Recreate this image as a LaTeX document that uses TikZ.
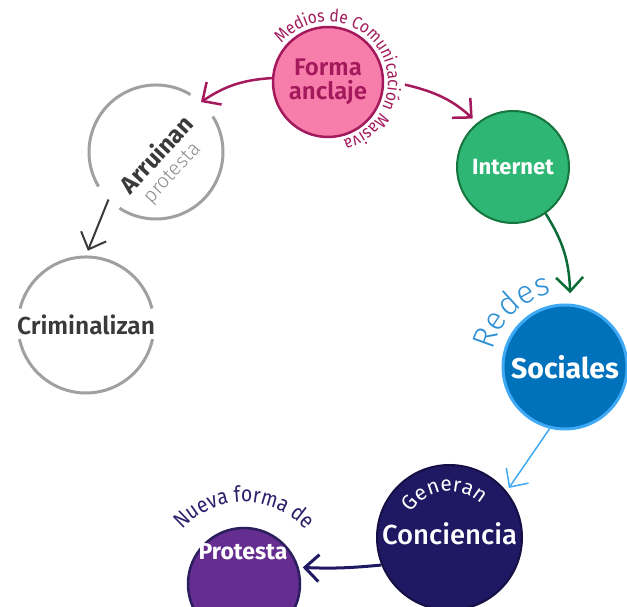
\documentclass[tikz,border=0pt]{standalone}
\usepackage{fontspec}
\setmainfont{Fira Sans}
\newfontfamily\fslight{Fira Sans Light}
\newfontfamily\fsmed{Fira Sans Medium}
\newfontfamily\fssemi{Fira Sans SemiBold}
\newfontfamily\fsnarrow{Fira Sans}[FakeStretch=0.88]
\usetikzlibrary{arrows.meta,decorations.text,calc}
\definecolor{magentaD}{HTML}{A3195B}
\definecolor{formapink}{HTML}{F77EAB}
\definecolor{inetgreen}{HTML}{2DB674}
\definecolor{inetdark}{HTML}{17753F}
\definecolor{arrgreen}{HTML}{0B6B36}
\definecolor{socblue}{HTML}{0072BC}
\definecolor{soclight}{HTML}{3FA9F5}
\definecolor{redesblue}{HTML}{2E8FD6}
\definecolor{concnavy}{HTML}{1F1862}
\definecolor{concdark}{HTML}{150F45}
\definecolor{protpurple}{HTML}{662D91}
\definecolor{protdark}{HTML}{2B1E5E}
\definecolor{nuevatext}{HTML}{2B1E6B}
\definecolor{graytext}{HTML}{3A3A3A}
\definecolor{ringgray}{HTML}{A0A0A0}
\definecolor{lightgraytext}{HTML}{8C8C8C}
\newcommand\fsz[1]{\fontsize{#1}{#1}\selectfont}
\begin{document}
\begin{tikzpicture}[x=1pt,y=1pt,
  bubble/.style={circle,inner sep=0pt,minimum size=#1},
  conn/.style={-{Straight Barb[length=14pt,width=27pt]}, line width=2.5pt},
  ring/.style={line width=3pt, draw=ringgray}]
\useasboundingbox (0,0) rectangle (627,607);

% nodes
\node[bubble=110pt, fill=formapink, draw=magentaD, line width=2.5pt, text=magentaD,
      align=center, font=\fssemi\fontsize{24}{24.5}\selectfont] (forma) at (328,525) {Forma\\anclaje};
\node[bubble=112pt, fill=inetgreen, draw=inetdark, line width=2pt, text=white,
      font=\bfseries\fsz{22}] (inet) at (513,440) {Internet};
\node[bubble=124pt, fill=socblue, draw=soclight, line width=3pt, text=white,
      font=\bfseries\fsz{28.5}] (redes) at (565,240) {Sociales};
\node[bubble=145pt, fill=concnavy, draw=concdark, line width=2pt] (conc) at (449.5,69.5) {};
\node[text=white, font=\fsmed\fsz{27.5}] (concT) at (449.5,73) {Conciencia};
\node[bubble=112pt, fill=protpurple, draw=protdark, line width=2.5pt] (prot) at (244,23) {};
\node[text=white, font=\bfseries\fsz{23}] (protT) at (243,55) {Protesta};
\node[bubble=136pt, text=graytext, font=\fssemi\fsz{24.5}] (crim) at (86,282) {Criminalizan};
\node[bubble=134pt] (arr) at (156,455) {};
\node[rotate=47, font=\bfseries\fsz{24}, text=graytext] (arrT) at (156,453) {Arruinan};
\node[rotate=47, font=\fslight\fsz{20}, text=lightgraytext] (arrP) at (173,433) {protesta};

% gray rings
\draw[ring] (arr.center) ++(59:67) arc[start angle=59, end angle=211, radius=67];
\draw[ring] (arr.center) ++(237:67) arc[start angle=237, end angle=392, radius=67];
\draw[ring] (crim.center) ++(14:68) arc[start angle=14, end angle=166, radius=68];
\draw[ring] (crim.center) ++(192:68) arc[start angle=192, end angle=348, radius=68];

% curved texts
\path[decorate, decoration={text along path, text align=center, text color=magentaD,
      text={|\fsnarrow\fsz{17.5}|Medios de Comunicación Masiva}}]
  (forma.center) ++(150:60) arc[start angle=150, end angle=-85, radius=60];
\path[decorate, decoration={text along path, text align=center, text color=redesblue,
      text={|\fslight\fsz{32}|Redes}}]
  (redes.center) ++(180:74) arc[start angle=180, end angle=88, radius=74];
\path[decorate, decoration={text along path, text align=center, text color=white,
      text={|\fsz{21}|Generan}}]
  (conc.center) ++(165:46) arc[start angle=165, end angle=29, radius=46];
\path[decorate, decoration={text along path, text align=center, text color=nuevatext,
      text={|\fsnarrow\fsz{22}|Nueva forma de}}]
  (prot.center) ++(150:82) arc[start angle=150, end angle=30, radius=82];

% connectors
\draw[conn, draw=magentaD] (forma.176) to[bend right=15] (arr.48);
\draw[conn, draw=magentaD, shorten >=6pt] ([shift={(-2:77)}]forma.center) to[bend left=15] (inet.129);
\draw[conn, draw=arrgreen] (inet.-55) to[bend left=15] ([shift={(86:74)}]redes.center);
\draw[conn, draw=soclight, line width=1.5pt, shorten >=4pt] (redes.-104) -- (conc.39);
\draw[conn, draw=concnavy, line width=3pt, shorten >=4pt] (conc.202) to[bend left=4] (prot.17);
\draw[conn, draw=graytext, line width=2pt, shorten >=5pt] (arr.225) -- (crim.90);
\end{tikzpicture}
\end{document}
